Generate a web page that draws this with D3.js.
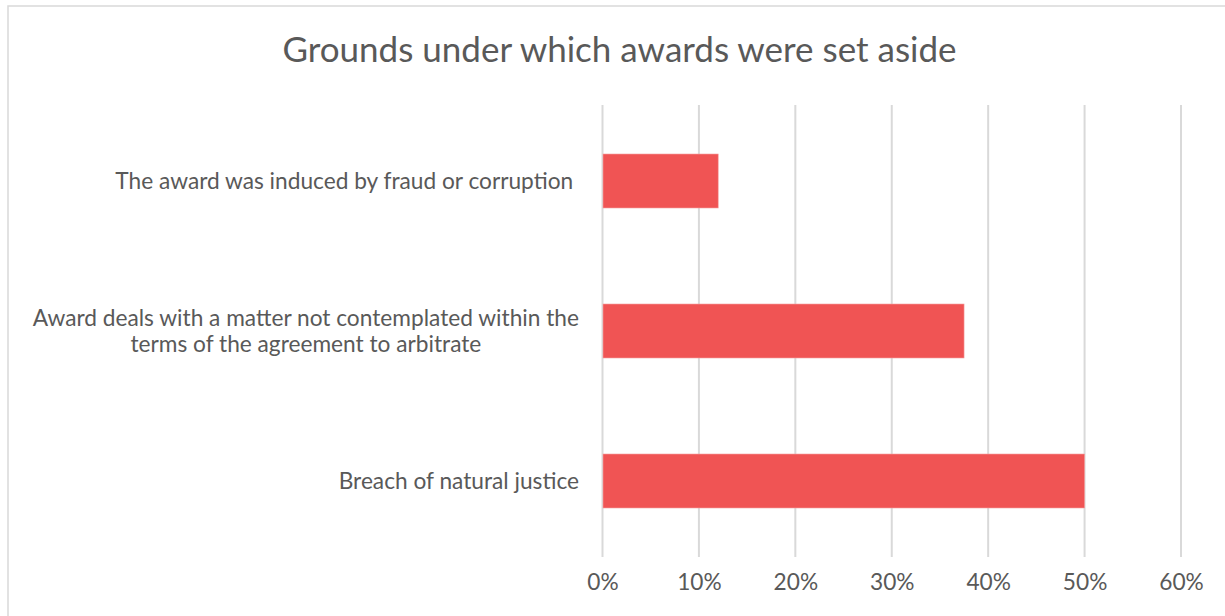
<!DOCTYPE html>
<html>
<head>
<meta charset="utf-8">
<script src="https://cdn.jsdelivr.net/npm/d3@7"></script>
<style>
  html, body { margin: 0; padding: 0; background: #fff; }
  svg { display: block; }
  text { font-family: Lato, "Open Sans", sans-serif; fill: #595959; }
</style>
</head>
<body>
<svg id="chart" width="1225" height="616"></svg>
<script>
// Grounds on which awards were set aside (share of cases)
const title = "Grounds under which awards were set aside";
const categories = [
  ["The award was induced by fraud or corruption "],
  ["Award deals with a matter not contemplated within the", "terms of the agreement to arbitrate"],
  ["Breach of natural justice"]
];
const values = [0.12, 0.375, 0.50];
const tickValues = [0, 0.1, 0.2, 0.3, 0.4, 0.5, 0.6];

const svg = d3.select("#chart");
const W = 1225, H = 616;
const plot = { left: 602.5, right: 1181, top: 106, bottom: 556 };

// chart frame
svg.append("rect")
  .attr("x", 8).attr("y", 6)
  .attr("width", W + 20).attr("height", H + 20)
  .attr("fill", "#fff")
  .attr("stroke", "#d9d9d9").attr("stroke-width", 1.5);

svg.append("text")
  .attr("x", 619.5).attr("y", 62)
  .attr("text-anchor", "middle")
  .style("font-size", "35px")
  .text(title);

const x = d3.scaleLinear().domain([0, 0.6]).range([plot.left, plot.right]);
const y = d3.scaleBand()
  .domain(d3.range(categories.length))
  .range([plot.top, plot.bottom])
  .paddingInner(0.64)
  .paddingOuter(0.32);

// vertical gridlines
svg.append("g").selectAll("line")
  .data(tickValues)
  .join("line")
  .attr("x1", d => x(d)).attr("x2", d => x(d))
  .attr("y1", plot.top - 1).attr("y2", plot.bottom + 1)
  .attr("stroke", "#d9d9d9").attr("stroke-width", 2);

// bars
svg.append("g").selectAll("rect")
  .data(values)
  .join("rect")
  .attr("x", x(0) + 0.5)
  .attr("y", (d, i) => y(i))
  .attr("width", d => x(d) - x(0) - 0.5)
  .attr("height", y.bandwidth())
  .attr("fill", "#f05454")
  .attr("stroke", "#f6a0a0").attr("stroke-width", 0.6);

// x axis tick labels
const xAxis = d3.axisBottom(x)
  .tickValues(tickValues)
  .tickFormat(d3.format(".0%"))
  .tickSize(0)
  .tickPadding(14);
const gx = svg.append("g")
  .attr("transform", `translate(0,${plot.bottom + 4})`)
  .call(xAxis);
gx.select(".domain").remove();
gx.selectAll("text")
  .style("font-family", "Lato, 'Open Sans', sans-serif")
  .style("font-size", "22.7px")
  .attr("fill", "#595959");

// category labels: block right-aligned to the axis, lines centred within the block
const lineH = 26;
const labelRight = 579;
const lg = svg.append("g");
categories.forEach((lines, i) => {
  const cy = y(i) + y.bandwidth() / 2;
  const g = lg.append("g");
  const t = g.append("text")
    .style("font-size", "22.7px")
    .style("white-space", "pre")
    .attr("text-anchor", "middle");
  lines.forEach((ln, k) => {
    t.append("tspan")
      .attr("x", 0)
      .attr("y", cy + (k - (lines.length - 1) / 2) * lineH)
      .attr("dy", "0.35em")
      .text(ln);
  });
  const bb = t.node().getBBox();
  g.attr("transform", `translate(${labelRight - bb.width / 2},0)`);
});
</script>
</body>
</html>
